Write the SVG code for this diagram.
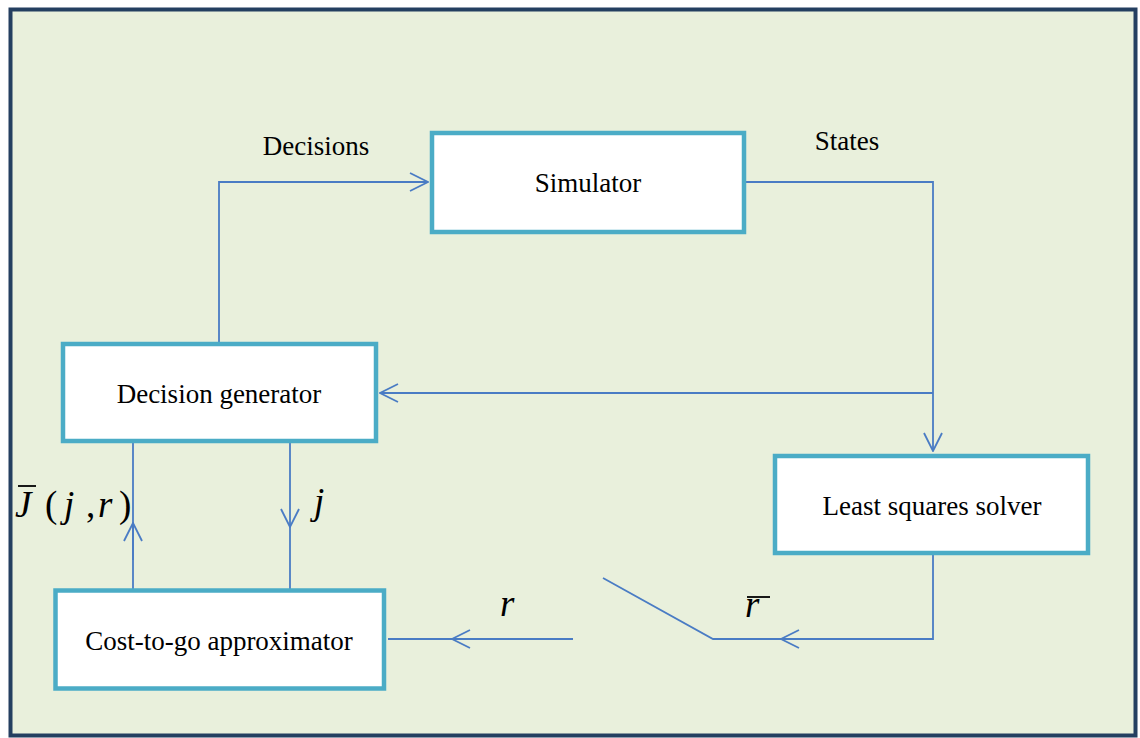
<svg xmlns="http://www.w3.org/2000/svg" width="1140" height="738" viewBox="0 0 1140 738">
<style>
.node{fill:#fff;stroke:#4BACC6;stroke-width:4.5}
.t{font-family:"Liberation Serif",serif;font-size:27px;fill:#000;text-anchor:middle}
.m{font-family:"Liberation Serif",serif;font-size:37px;font-style:italic;fill:#000}
.u{font-style:normal}
.c{fill:none;stroke:#4A7CC4;stroke-width:1.8}
</style>
<defs>
<marker id="a" viewBox="0 0 20 20" refX="19" refY="10" markerWidth="20" markerHeight="20" markerUnits="userSpaceOnUse" orient="auto">
<path d="M1,1 L19,10 L1,19" fill="none" stroke="#4A7CC4" stroke-width="1.8"/>
</marker>
</defs>
<rect x="0" y="0" width="1140" height="738" fill="#fff"/>
<rect x="10.5" y="9.5" width="1125" height="726" fill="#E9F0DC" stroke="#243F60" stroke-width="4"/>
<g id="connectors">
<path class="c" d="M219,343 V182 H428" marker-end="url(#a)"/>
<path class="c" d="M745,182 H933 V451" marker-end="url(#a)"/>
<path class="c" d="M933,393 H380" marker-end="url(#a)"/>
<path class="c" d="M133,590 V441"/>
<path class="c" d="M133,560 V523" marker-end="url(#a)"/>
<path class="c" d="M290,441 V527" marker-end="url(#a)"/>
<path class="c" d="M290,527 V590"/>
<path class="c" d="M933,553 V639 H713 L603,578"/>
<path class="c" d="M800,639 H781" marker-end="url(#a)"/>
<path class="c" d="M573,639 H388"/>
<path class="c" d="M480,639 H452" marker-end="url(#a)"/>
</g>
<g id="simulator"><rect class="node" x="432" y="133" width="312" height="99"/><text class="t" x="588" y="192">Simulator</text></g>
<g id="decision-generator"><rect class="node" x="63" y="344" width="313" height="97"/><text class="t" x="219" y="403">Decision generator</text></g>
<g id="least-squares-solver"><rect class="node" x="775" y="456" width="313" height="97"/><text class="t" x="932" y="515">Least squares solver</text></g>
<g id="cost-to-go"><rect class="node" x="55.5" y="590.5" width="328.5" height="98"/><text class="t" x="219" y="650">Cost-to-go approximator</text></g>
<g id="labels">
<text class="t" x="316" y="155">Decisions</text>
<text class="t" x="847" y="150">States</text>
<text class="m" x="15" y="517">J</text>
<line x1="18" y1="486" x2="36" y2="486" stroke="#000" stroke-width="1.8"/>
<text class="m u" x="45" y="517">(</text>
<text class="m" x="64" y="517">j</text>
<text class="m u" x="86" y="517">,</text>
<text class="m" x="98" y="517">r</text>
<text class="m u" x="119" y="517">)</text>
<text class="m" x="314" y="514">j</text>
<text class="m" x="500" y="616">r</text>
<text class="m" x="745" y="617">r</text>
<line x1="747" y1="597" x2="770" y2="597" stroke="#000" stroke-width="1.8"/>
</g>
</svg>
